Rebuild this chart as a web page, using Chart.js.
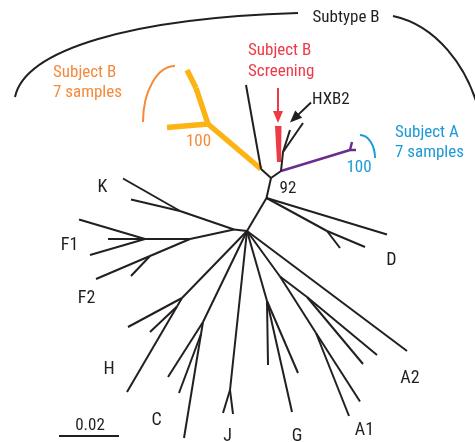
<!DOCTYPE html>
<html><head><meta charset="utf-8">
<script src="https://cdn.jsdelivr.net/npm/chart.js@4.4.1/dist/chart.umd.min.js"></script>
<style>html,body{margin:0;padding:0;background:#fff;overflow:hidden}canvas{display:block}</style>
</head><body>
<canvas id="c" width="475" height="442"></canvas>
<script>
// ---- Tree nodes (layout units) ----
const nodeIds = ['N','r0','n92','nB','tB1','y1','y1a','y1b','y1c','nA','pT','pT1','pT2','hx','hx1','hx2',
  'd1','dF','d2','d3','kf','kS','k1','k2','f0','f1','f1a','f1b','f1c','f2f','f2t','f2b',
  'h0','h1','hf','h2','h3','c0','c1','cf','c2','c3','j0','j1','j2','g0','g1','g2','g3',
  'a0','a2f','a2a','a2b','a1f','a1','a1b','a2L','sb0','sb1'];
const nodeX = [247,266.5,271,261,246,208,167,196,187,281,350,352,356,283,290,303,
  387,327,365,340,234,180,123,131,190,145,108,79,90,150,96,131,
  182,128,177,127,150,203,168,201,184,179,230,223,233,267,268,298,292,
  280,307,377,363,316,360,349,407,59,119];
const nodeY = [231,198,178,169,85,124,127.5,88,70,171,150,142,150,152,130,123,
  234.5,231,247,248,229.5,211,178.5,199.5,239,239,239,219.5,255,256,279,276,
  298,327,306.5,392,332,322,377,334,438,393,390,413,414,301,365,373,412,
  276.5,297,355,364,333,401.5,416,351,436,436];

// ---- Branches (pairs of node ids), grouped by colour ----
const blackEdges = [['N','r0'],['r0','n92'],['n92','nB'],['n92','nA'],['nB','tB1'],
  ['nA','hx'],['hx','hx1'],['hx','hx2'],
  ['r0','d1'],['r0','dF'],['dF','d2'],['dF','d3'],
  ['N','kf'],['kf','kS'],['kS','k1'],['kS','k2'],['kf','f0'],['f0','f1'],['f1','f1a'],['f1','f1b'],['f1','f1c'],
  ['f0','f2f'],['f2f','f2t'],['f2f','f2b'],
  ['N','h0'],['h0','h1'],['h0','hf'],['hf','h2'],['hf','h3'],
  ['N','c0'],['c0','c1'],['c0','cf'],['cf','c2'],['cf','c3'],
  ['N','j0'],['j0','j1'],['j0','j2'],
  ['N','g0'],['g0','g1'],['g0','g2'],['g0','g3'],
  ['N','a0'],['a0','a2f'],['a2f','a2a'],['a2f','a2b'],['a0','a1f'],['a1f','a1'],['a1f','a1b'],['N','a2L'],
  ['sb0','sb1']];
const yellowEdges = [['nB','y1'],['y1','y1a'],['y1','y1b'],['y1b','y1c']];
const purpleEdges = [['nA','pT'],['pT','pT1'],['pT','pT2']];

// ---- Text labels ----
const labelText  = ['Subtype B','Subject B','7 samples','Subject B','Screening','HXB2','Subject A','7 samples',
  '100','100','92','K','F1','F2','H','C','J','G','A1','A2','D','0.02'];
const labelX     = [346,53,53,248,248,312,395,395,198.5,359,288,102.5,69.5,86.5,109,156.5,227.5,297,364.5,410,391.5,90];
const labelY     = [21.5,77,97,55,76,104,136.5,156.5,146,171.5,193,192,250,303,374,425,441,441,435,383,265,430];
const labelColor = ['k','o','o','r','r','k','b','b','o','b','k','k','k','k','k','k','k','k','k','k','k','k'];
const labelAlign = ['center','left','left','left','left','left','left','left','center','center','center',
  'center','center','center','center','center','center','center','center','center','center','center'];
const labelSize  = [17,17,17,17,17,17,17,17,17,17,17,18,18,18,18,18,18,18,18,18,18,17];

const COL = {k:'#231f20', o:'#f58a3a', r:'#ed3a45', b:'#1b9ad6', y:'#fcb415', p:'#6b2c8f'};
const FONT = '"Liberation Sans Narrow","Roboto Condensed","DejaVu Sans Condensed","Liberation Sans",sans-serif';

// arcs: center, radii, angles
const arcs = [
  {cx:175, cy:122, rx:32, ry:56, a0:Math.PI, a1:1.5*Math.PI, c:'o'},
  {cx:360, cy:158, rx:15, ry:23, a0:1.5*Math.PI, a1:2*Math.PI, c:'b'}
];
// "Subtype B" bracket curves (cubic)
const brackets = [
  [[15,97],[25,50],[130,18],[298,13]],
  [[393,16],[435,25],[468,65],[480,115]]
];
// arrows: tail -> tip
const arrows = [
  {x1:278,y1:88,x2:278,y2:123,c:'r'},
  {x1:311,y1:102.5,x2:290,y2:122.5,c:'k'}
];
// screening bar polygon
const redBar = [[275,126],[281.5,126],[281,162],[277,162]];

const pos = id => { const i = nodeIds.indexOf(id); return {x:nodeX[i], y:nodeY[i]}; };
const mk = (edges, color, w) => edges.map(e => ({
  data:[pos(e[0]), pos(e[1])], borderColor:color, borderWidth:w, showLine:true,
  pointRadius:0, pointHoverRadius:0, fill:false, clip:false, tension:0,
  borderCapStyle: 'butt', borderJoinStyle:'round'
}));
const datasets = [...mk(blackEdges, COL.k, 2), ...mk(yellowEdges, COL.y, 5.5), ...mk(purpleEdges, COL.p, 2.5)];

const deco = {
  id:'deco',
  afterDatasetsDraw(chart){
    const ctx = chart.ctx, X = chart.scales.x, Y = chart.scales.y;
    const px = v => X.getPixelForValue(v), py = v => Y.getPixelForValue(v);
    ctx.save();
    // red bar
    ctx.fillStyle = COL.r; ctx.beginPath();
    redBar.forEach((p,i)=>{ i? ctx.lineTo(px(p[0]),py(p[1])) : ctx.moveTo(px(p[0]),py(p[1])); });
    ctx.closePath(); ctx.fill();
    // arcs
    arcs.forEach(a=>{
      ctx.strokeStyle = COL[a.c]; ctx.lineWidth = 2; ctx.beginPath();
      const cx = px(a.cx), cy = py(a.cy);
      const rx = Math.abs(px(a.cx + a.rx) - cx), ry = Math.abs(py(a.cy + a.ry) - cy);
      ctx.ellipse(cx, cy, rx, ry, 0, a.a0, a.a1); ctx.stroke();
    });
    // brackets
    ctx.strokeStyle = COL.k; ctx.lineWidth = 2;
    brackets.forEach(b=>{
      ctx.beginPath(); ctx.moveTo(px(b[0][0]),py(b[0][1]));
      ctx.bezierCurveTo(px(b[1][0]),py(b[1][1]),px(b[2][0]),py(b[2][1]),px(b[3][0]),py(b[3][1]));
      ctx.stroke();
    });
    // arrows
    arrows.forEach(a=>{
      const x1=px(a.x1),y1=py(a.y1),x2=px(a.x2),y2=py(a.y2);
      const ang=Math.atan2(y2-y1,x2-x1), L=12, W=5;
      const bx=x2-L*Math.cos(ang), by=y2-L*Math.sin(ang);
      ctx.strokeStyle=COL[a.c]; ctx.fillStyle=COL[a.c]; ctx.lineWidth=2;
      ctx.beginPath(); ctx.moveTo(x1,y1); ctx.lineTo(bx+2*Math.cos(ang),by+2*Math.sin(ang)); ctx.stroke();
      ctx.beginPath(); ctx.moveTo(x2,y2);
      ctx.lineTo(bx - W*Math.sin(ang), by + W*Math.cos(ang));
      ctx.lineTo(bx + W*Math.sin(ang), by - W*Math.cos(ang));
      ctx.closePath(); ctx.fill();
    });
    // labels
    ctx.textBaseline = 'alphabetic';
    labelText.forEach((t,i)=>{
      ctx.font = labelSize[i] + 'px ' + FONT;
      ctx.fillStyle = COL[labelColor[i]];
      ctx.textAlign = labelAlign[i];
      ctx.fillText(t, px(labelX[i]), py(labelY[i]));
    });
    ctx.restore();
  }
};

new Chart(document.getElementById('c'), {
  type:'scatter',
  data:{datasets},
  options:{
    responsive:false, animation:false, devicePixelRatio:1,
    layout:{padding:0},
    plugins:{legend:{display:false}, tooltip:{enabled:false}, title:{display:false}},
    events:[],
    scales:{
      x:{type:'linear', min:0, max:475, display:false},
      y:{type:'linear', min:0, max:442, reverse:true, display:false}
    }
  },
  plugins:[deco]
});
</script>
</body></html>
